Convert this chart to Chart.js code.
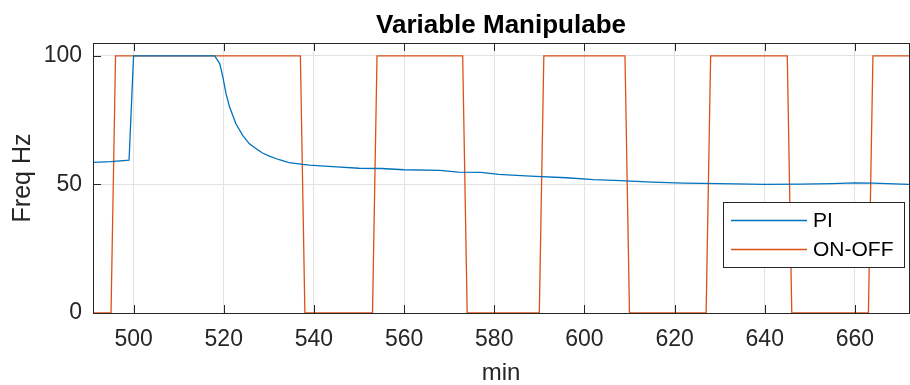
<!DOCTYPE html>
<html>
<head>
<meta charset="utf-8">
<script src="https://cdn.jsdelivr.net/npm/chart.js@4"></script>
<style>
  html, body { margin: 0; padding: 0; background: #fff; }
  #wrap { width: 910px; height: 385px; }
</style>
</head>
<body>
<div id="wrap"><canvas id="chart" width="910" height="385"></canvas></div>
<script>
// PI controller output (min, Hz)
const piX = [491, 495, 499, 500, 518, 519.1, 519.8, 520.5, 521.3, 522.7, 524.2, 525.7, 527.2, 528.6, 530.1, 532.3, 534.5, 537.5, 539,
             545, 550, 555, 560, 568, 572, 577, 581, 588, 596, 602, 608, 615, 622, 630, 640, 648, 655, 660, 664, 672];
const piY = [58.6, 58.9, 59.4, 100, 100, 97.0, 91.8, 85.3, 80.1, 73.6, 69.1, 65.8, 63.9, 62.2, 61.0, 59.6, 58.5, 57.8, 57.5,
             56.8, 56.3, 56.2, 55.7, 55.5, 54.8, 54.7, 53.9, 53.2, 52.6, 51.9, 51.5, 50.9, 50.5, 50.3, 50.0, 50.1, 50.3, 50.6, 50.5, 50.0];

// ON-OFF controller output
const onoffX = [491, 495, 496, 537, 538, 553, 554, 573, 574, 590, 591, 609, 610, 627, 628, 645, 646, 663, 664, 672];
const onoffY = [0, 0, 100, 100, 0, 0, 100, 100, 0, 0, 100, 100, 0, 0, 100, 100, 0, 0, 100, 100];

const xTicks = [500, 520, 540, 560, 580, 600, 620, 640, 660];
const yTicks = [0, 50, 100];

const seriesNames = ['PI', 'ON-OFF'];
const seriesColors = ['#0072BD', '#D95319'];

const FONT = "'Liberation Sans', Arial, Helvetica, sans-serif";

function pts(xs, ys) {
    return xs.map((x, i) => ({ x: x, y: ys[i] }));
}

// frame, inward tick marks and the boxed legend, MATLAB style
const matlabAxes = {
    id: 'matlabAxes',
    afterDraw(chart) {
        const ctx = chart.ctx;
        const a = chart.chartArea;
        const xs = chart.scales.x;
        const ys = chart.scales.y;
        ctx.save();
        ctx.strokeStyle = '#262626';
        ctx.lineWidth = 1;
        ctx.beginPath();
        xTicks.forEach(v => {
            const px = Math.round(xs.getPixelForValue(v)) + 0.5;
            ctx.moveTo(px, a.bottom); ctx.lineTo(px, a.bottom - 8);
            ctx.moveTo(px, a.top); ctx.lineTo(px, a.top + 8);
        });
        yTicks.forEach(v => {
            const py = Math.round(ys.getPixelForValue(v)) + 0.5;
            ctx.moveTo(a.left, py); ctx.lineTo(a.left + 8, py);
        });
        ctx.stroke();
        ctx.strokeRect(Math.round(a.left) + 0.5, Math.round(a.top) + 0.5,
                       Math.round(a.right - a.left), Math.round(a.bottom - a.top));

        // legend
        const lx = 723, ly = 202, lw = 181, lh = 65;
        ctx.fillStyle = '#fff';
        ctx.fillRect(lx, ly, lw, lh);
        ctx.strokeRect(lx + 0.5, ly + 0.5, lw, lh);
        ctx.font = '21px ' + FONT;
        ctx.textBaseline = 'middle';
        ctx.textAlign = 'left';
        seriesNames.forEach((name, i) => {
            const y = ly + 18.5 + i * 29;
            ctx.strokeStyle = seriesColors[i];
            ctx.lineWidth = 1.3;
            ctx.beginPath();
            ctx.moveTo(731, y); ctx.lineTo(807, y);
            ctx.stroke();
            ctx.fillStyle = '#000';
            ctx.fillText(name, 813, y + 1);
        });
        ctx.restore();
    }
};

new Chart(document.getElementById('chart').getContext('2d'), {
    type: 'line',
    data: {
        datasets: [{
            label: seriesNames[0],
            data: pts(piX, piY),
            borderColor: seriesColors[0],
            borderWidth: 1.3,
            pointRadius: 0,
            tension: 0,
            fill: false
        }, {
            label: seriesNames[1],
            data: pts(onoffX, onoffY),
            borderColor: seriesColors[1],
            borderWidth: 1.3,
            pointRadius: 0,
            tension: 0,
            fill: false
        }]
    },
    options: {
        responsive: false,
        animation: false,
        layout: { padding: { top: 0, right: 1, left: 0, bottom: 0 } },
        plugins: {
            legend: { display: false },
            tooltip: { enabled: false },
            title: {
                display: true,
                text: 'Variable Manipulabe',
                fullSize: false,
                color: '#000',
                font: { family: FONT, size: 26, weight: 'bold', lineHeight: 1.2 },
                padding: { top: 10, bottom: 1.8 }
            }
        },
        scales: {
            x: {
                type: 'linear',
                min: 491,
                max: 672,
                afterFit: s => { s.height = 72; },
                afterBuildTicks: s => { s.ticks = xTicks.map(v => ({ value: v })); },
                ticks: {
                    includeBounds: false,
                    color: '#262626',
                    padding: 13,
                    maxRotation: 0,
                    font: { family: FONT, size: 23 }
                },
                grid: { color: '#e3e3e3', drawTicks: false },
                border: { display: false },
                title: {
                    display: true,
                    text: 'min',
                    color: '#262626',
                    font: { family: FONT, size: 24, lineHeight: 1 },
                    padding: { top: 0, bottom: 0 }
                }
            },
            y: {
                type: 'linear',
                min: 0,
                max: 105,
                afterFit: s => { s.width = 93; },
                afterBuildTicks: s => { s.ticks = yTicks.map(v => ({ value: v })); },
                ticks: {
                    includeBounds: false,
                    color: '#262626',
                    padding: 11,
                    font: { family: FONT, size: 23 }
                },
                grid: { color: '#e3e3e3', drawTicks: false },
                border: { display: false },
                title: {
                    display: true,
                    text: 'Freq Hz',
                    color: '#262626',
                    font: { family: FONT, size: 25, lineHeight: 1.2 },
                    padding: { top: 8, bottom: 0 }
                }
            }
        }
    },
    plugins: [matlabAxes]
});
</script>
</body>
</html>
